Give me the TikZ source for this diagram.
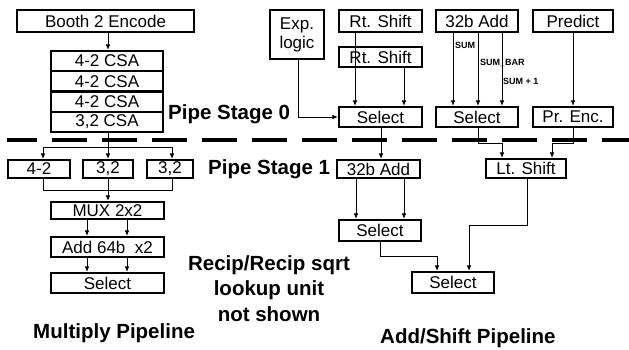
\documentclass[tikz,border=0pt]{standalone}
\usepackage{fontspec}
\setmainfont{Liberation Sans}
\usetikzlibrary{arrows.meta}
\begin{document}
\begin{tikzpicture}[x=1pt,y=-1pt,
  box/.style={draw, line width=2.1pt, inner sep=0pt, font=\fontsize{17}{19}\selectfont, align=center},
  conn/.style={line width=0.8pt},
  arr/.style={conn, -{Latex[length=5.5pt,width=4.5pt]}},
  big/.style={font=\fontsize{20.5}{24}\bfseries\selectfont, inner sep=0pt},
  small/.style={font=\fontsize{9}{10}\bfseries\selectfont, inner sep=0pt, anchor=west}]
\useasboundingbox (0,0) rectangle (629,350);

% pipe stage separator
\draw[line width=3.5pt, dash pattern=on 35pt off 15pt, dash phase=5pt] (7,140) -- (629,140);

% ---------- Multiply pipeline ----------
\node[box, minimum width=177pt, minimum height=22pt] (booth) at (105.5,21) {Booth 2 Encode};
\node[box, minimum width=112pt, minimum height=20.25pt] (csa1) at (107,61.1) {4-2 CSA};
\node[box, minimum width=112pt, minimum height=20.25pt] (csa2) at (107,81.4) {4-2 CSA};
\node[box, minimum width=112pt, minimum height=20.25pt] (csa3) at (107,101.6) {4-2 CSA};
\node[box, minimum width=112pt, minimum height=20.25pt] (csa4) at (107,121.9) {3,2 CSA};
\node[box, minimum width=62pt, minimum height=18pt] (m1) at (39,169) {4-2};
\node[box, minimum width=50pt, minimum height=18pt] (m2) at (108,169) {3,2};
\node[box, minimum width=46pt, minimum height=18pt] (m3) at (170,169) {3,2};
\node[box, minimum width=113pt, minimum height=17pt] (mux) at (107.5,210.5) {MUX 2x2};
\node[box, minimum width=113pt, minimum height=20pt] (add64) at (107.5,247) {Add 64b~ x2};
\node[box, minimum width=113pt, minimum height=20pt] (msel) at (107.5,283) {Select};

\coordinate (c108) at (108,0);
\coordinate (c87) at (87,0);
\coordinate (c127) at (127,0);
\draw[arr] (booth.south -| c108) -- (csa1.north -| c108);
\coordinate (j1) at (108,147);
\coordinate (j1l) at (43,147);
\coordinate (j1r) at (172,147);
\draw[conn] (csa4.south -| j1) -- (j1);
\draw[conn] (j1l) -- (j1r);
\draw[arr] (j1l) -- (m1.north -| j1l);
\draw[arr] (j1) -- (m2.north -| j1);
\draw[arr] (j1r) -- (m3.north -| j1r);
\coordinate (j2) at (108,190);
\coordinate (j2l) at (43,190);
\coordinate (j2r) at (172,190);
\draw[conn] (m1.south -| j2l) -- (j2l) -- (j2r) -- (m3.south -| j2r);
\draw[conn] (m2.south -| j2) -- (j2);
\draw[arr] (j2) -- (mux.north -| j2);
\draw[arr] (mux.south -| c87) -- (add64.north -| c87);
\draw[arr] (mux.south -| c127) -- (add64.north -| c127);
\draw[arr] (add64.south -| c87) -- (msel.north -| c87);
\draw[arr] (add64.south -| c127) -- (msel.north -| c127);

% ---------- Add/Shift pipeline ----------
\node[box, minimum width=54pt, minimum height=49pt] (exp) at (297,34.5) {Exp.\\logic};
\node[box, minimum width=83pt, minimum height=22pt] (rs1) at (380.5,21) {Rt. Shift};
\node[box, minimum width=83pt, minimum height=20pt] (rs2) at (380.5,57) {Rt. Shift};
\node[box, minimum width=83pt, minimum height=20pt] (sel0) at (380.5,117) {Select};
\node[box, minimum width=82pt, minimum height=22pt] (add0) at (477,21) {32b Add};
\node[box, minimum width=80pt, minimum height=22pt] (pred) at (573,21) {Predict};
\node[box, minimum width=82pt, minimum height=20pt] (sel1) at (477,117) {Select};
\node[box, minimum width=80pt, minimum height=20pt] (prenc) at (573,117) {Pr. Enc.};
\node[box, minimum width=83pt, minimum height=18pt] (add1) at (378.5,169) {32b Add};
\node[box, minimum width=80pt, minimum height=19pt] (lts) at (526,168.5) {Lt. Shift};
\node[box, minimum width=82pt, minimum height=21pt] (sel2) at (380,230.5) {Select};
\node[box, minimum width=82pt, minimum height=21pt] (sel3) at (453,282.5) {Select};

\coordinate (e1) at (298,117);
\draw[arr] (exp.south -| e1) -- (e1) -- (sel0.west);
\coordinate (c355) at (355,0);
\coordinate (c404) at (404,0);
\coordinate (c381) at (381,0);
\draw[arr] (rs1.south -| c355) -- (sel0.north -| c355);
\draw[arr] (rs2.south -| c404) -- (sel0.north -| c404);
\draw[arr] (sel0.south -| c381) -- (add1.north -| c381);
\coordinate (c453) at (453,0);
\coordinate (c478) at (478,0);
\coordinate (c502) at (502,0);
\draw[arr] (add0.south -| c453) -- (sel1.north -| c453);
\draw[arr] (add0.south -| c478) -- (sel1.north -| c478);
\draw[arr] (add0.south -| c502) -- (sel1.north -| c502);
\node[small] (lsum) at (455,45) {SUM};
\node[small] (lsumbar) at (480,63) {SUM\_BAR};
\node[small] (lsum1) at (503,81) {SUM + 1};
\draw[arr] (pred.south) -- (prenc.north);
\coordinate (k1) at (478,143);
\coordinate (k2) at (502,143);
\draw[arr] (sel1.south -| k1) -- (k1) -- (k2) -- (lts.north -| k2);
\coordinate (k3) at (573,143);
\coordinate (k4) at (552,143);
\draw[arr] (prenc.south -| k3) -- (k3) -- (k4) -- (lts.north -| k4);
\coordinate (c356) at (356,0);
\draw[arr] (add1.south -| c356) -- (sel2.north -| c356);
\draw[arr] (add1.south -| c404) -- (sel2.north -| c404);
\coordinate (k5) at (380,256);
\coordinate (k6) at (437,256);
\draw[arr] (sel2.south -| k5) -- (k5) -- (k6) -- (sel3.north -| k6);
\coordinate (k7) at (527,225);
\coordinate (k8) at (469,225);
\draw[arr] (lts.south -| k7) -- (k7) -- (k8) -- (sel3.north -| k8);

% ---------- labels ----------
\node[big, anchor=base west] (ps0) at (168,120) {Pipe Stage 0};
\node[big, anchor=base west] (ps1) at (208,175) {Pipe Stage 1};
\node[big, anchor=base west] (mp) at (33,338) {Multiply Pipeline};
\node[big, anchor=base west] (asp) at (380,343) {Add/Shift Pipeline};
\node[big, anchor=base] (r1) at (269,270) {Recip/Recip sqrt};
\node[big, anchor=base] (r2) at (269,295) {lookup unit};
\node[big, anchor=base] (r3) at (269,321) {not shown};
\end{tikzpicture}
\end{document}
